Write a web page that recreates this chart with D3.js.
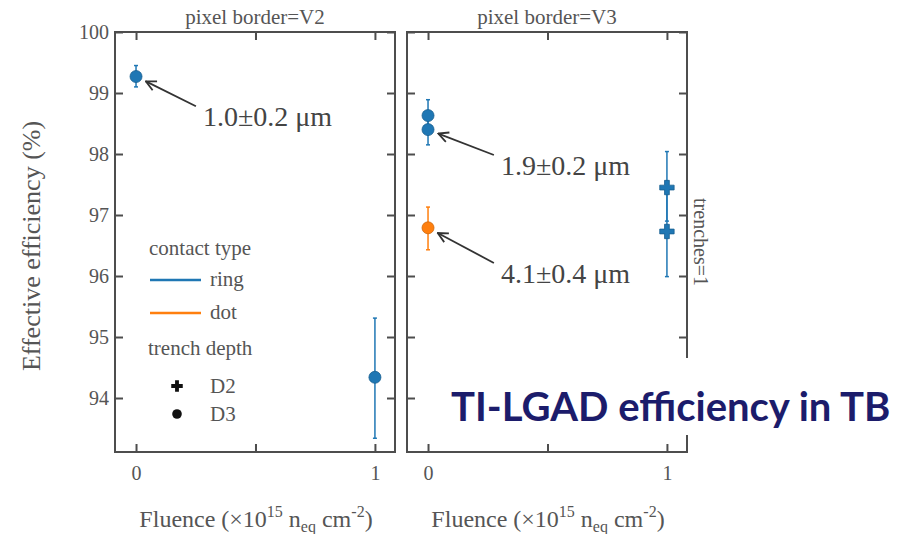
<!DOCTYPE html>
<html>
<head>
<meta charset="utf-8">
<script src="https://cdn.jsdelivr.net/npm/d3@7"></script>
<style>
  html, body { margin: 0; padding: 0; background: #fff; }
  svg { display: block; }
</style>
</head>
<body>
<svg id="chart" width="910" height="534"></svg>
<script>
// Facets and axes
const panels = ['V2', 'V3'];
const yTicks = [94, 95, 96, 97, 98, 99, 100];
const xTicks = [0, 0.5, 1];
const xTickLabels = ['0', '', '1'];

const pointPanel = ['V2', 'V2', 'V3', 'V3', 'V3', 'V3', 'V3'];
const pointFluence = [0, 1, 0, 0, 0, 1, 1];
const pointEff = [99.27, 94.34, 98.63, 98.40, 96.79, 97.45, 96.73];
const pointErrLo = [99.10, 93.34, 98.37, 98.15, 96.43, 96.90, 95.99];
const pointErrHi = [99.45, 95.31, 98.89, 98.65, 97.13, 98.04, 97.40];
const pointContact = ['ring', 'ring', 'ring', 'ring', 'dot', 'ring', 'ring'];
const pointDepth = ['D3', 'D3', 'D3', 'D3', 'D3', 'D2', 'D2'];

// Annotations: label, target point index, text position (data units)
const annPanel = ['V2', 'V3', 'V3'];
const annText = ['1.0±0.2 μm', '1.9±0.2 μm', '4.1±0.4 μm'];
const annTarget = [0, 3, 4];
const annTextX = [0.28, 0.305, 0.305];
const annTextY = [98.62, 97.82, 96.05];

const contactTypes = ['ring', 'dot'];
const depthTypes = ['D2', 'D3'];

const COLORS = { ring: '#1f77b4', dot: '#ff7f0e' };
const AXIS = '#4d4d4d';
const TEXT = '#555';
const SERIF = '"Liberation Serif", "Times New Roman", serif';

const svg = d3.select('#chart');

const plotTop = 32, plotBottom = 452, pw = 280;
const panelX = { V2: 115, V3: 407 };

const y = d3.scaleLinear().domain([93.115, 100]).range([plotBottom, plotTop]);
const xScales = {};
panels.forEach(p => {
  xScales[p] = d3.scaleLinear().domain([-0.088, 1.084]).range([panelX[p], panelX[p] + pw]);
});

const markerPath = depth => depth === 'D2'
  ? d3.symbol().type(d3.symbolCross).size(115)()
  : d3.symbol().type(d3.symbolCircle).size(Math.PI * 36)();

svg.append('defs').append('marker')
  .attr('id', 'head')
  .attr('viewBox', '0 0 12 12')
  .attr('refX', 11).attr('refY', 6)
  .attr('markerWidth', 12).attr('markerHeight', 12)
  .attr('markerUnits', 'userSpaceOnUse')
  .attr('orient', 'auto')
  .append('path')
  .attr('d', 'M1,1 L11,6 L1,11')
  .attr('fill', 'none')
  .attr('stroke', '#333')
  .attr('stroke-width', 1.8);

panels.forEach((p, pi) => {
  const x = xScales[p];
  const g = svg.append('g');

  // frame
  g.append('rect')
    .attr('x', panelX[p]).attr('y', plotTop)
    .attr('width', pw).attr('height', plotBottom - plotTop)
    .attr('fill', 'none').attr('stroke', AXIS).attr('stroke-width', 2);

  // axes with inward ticks
  const left = g.append('g').attr('transform', `translate(${panelX[p]},0)`)
    .call(d3.axisLeft(y).tickValues(yTicks).tickSizeInner(-8).tickSizeOuter(0).tickPadding(6)
      .tickFormat(pi === 0 ? d3.format('d') : () => ''));
  const right = g.append('g').attr('transform', `translate(${panelX[p] + pw},0)`)
    .call(d3.axisRight(y).tickValues(yTicks).tickSizeInner(-8).tickSizeOuter(0).tickFormat(() => ''));
  const bot = g.append('g').attr('transform', `translate(0,${plotBottom})`)
    .call(d3.axisBottom(x).tickValues(xTicks).tickSizeInner(-8).tickSizeOuter(0).tickPadding(14)
      .tickFormat((d, i) => xTickLabels[i]));
  const topAx = g.append('g').attr('transform', `translate(0,${plotTop})`)
    .call(d3.axisTop(x).tickValues(xTicks).tickSizeInner(-8).tickSizeOuter(0).tickFormat(() => ''));

  [left, right, bot, topAx].forEach(a => {
    a.select('.domain').remove();
    a.selectAll('line').attr('stroke', AXIS).attr('stroke-width', 2);
    a.selectAll('text').attr('fill', TEXT).attr('font-family', SERIF).attr('font-size', 20);
  });

  // panel title
  g.append('text')
    .attr('x', panelX[p] + pw / 2).attr('y', 24)
    .attr('text-anchor', 'middle')
    .attr('fill', TEXT).attr('font-family', SERIF).attr('font-size', 21)
    .text(`pixel border=${p}`);

  // x axis title
  const xt = g.append('text')
    .attr('x', panelX[p] + pw / 2 + 1).attr('y', 527)
    .attr('text-anchor', 'middle')
    .attr('fill', TEXT).attr('font-family', SERIF).attr('font-size', 24);
  xt.append('tspan').text('Fluence (×10');
  xt.append('tspan').attr('font-size', 16).attr('dy', -10).text('15');
  xt.append('tspan').attr('dy', 10).text(' n');
  xt.append('tspan').attr('font-size', 16).attr('dy', 5).text('eq');
  xt.append('tspan').attr('dy', -5).text(' cm');
  xt.append('tspan').attr('font-size', 16).attr('dy', -10).text('-2');
  xt.append('tspan').attr('dy', 10).text(')');

  // points
  const idx = d3.range(pointEff.length).filter(i => pointPanel[i] === p);

  const eb = g.selectAll('g.err').data(idx).join('g').attr('class', 'err')
    .attr('stroke', i => COLORS[pointContact[i]]).attr('stroke-width', 1.5);
  eb.append('line')
    .attr('x1', i => x(pointFluence[i])).attr('x2', i => x(pointFluence[i]))
    .attr('y1', i => y(pointErrLo[i])).attr('y2', i => y(pointErrHi[i]));
  eb.append('line')
    .attr('x1', i => x(pointFluence[i]) - 2).attr('x2', i => x(pointFluence[i]) + 2)
    .attr('y1', i => y(pointErrLo[i])).attr('y2', i => y(pointErrLo[i]));
  eb.append('line')
    .attr('x1', i => x(pointFluence[i]) - 2).attr('x2', i => x(pointFluence[i]) + 2)
    .attr('y1', i => y(pointErrHi[i])).attr('y2', i => y(pointErrHi[i]));

  g.selectAll('path.pt').data(idx).join('path').attr('class', 'pt')
    .attr('transform', i => `translate(${x(pointFluence[i])},${y(pointEff[i])})`)
    .attr('d', i => markerPath(pointDepth[i]))
    .attr('fill', i => COLORS[pointContact[i]])
    .attr('stroke', i => d3.color(COLORS[pointContact[i]]).darker(0.6))
    .attr('stroke-width', 0.8);

  // annotations
  d3.range(annText.length).filter(a => annPanel[a] === p).forEach(a => {
    const t = annTarget[a];
    const px = x(pointFluence[t]), py = y(pointEff[t]);
    const tx = x(annTextX[a]), ty = y(annTextY[a]);
    const sx = tx - 7, sy = ty - 10;
    const dx = sx - px, dy = sy - py, len = Math.hypot(dx, dy);
    g.append('line')
      .attr('x1', sx).attr('y1', sy)
      .attr('x2', px + dx / len * 11).attr('y2', py + dy / len * 11)
      .attr('stroke', '#333').attr('stroke-width', 1.8)
      .attr('marker-end', 'url(#head)');
    g.append('text')
      .attr('x', tx).attr('y', ty).attr('dy', '0.35em')
      .attr('fill', '#444').attr('font-family', SERIF).attr('font-size', 28)
      .text(annText[a]);
  });
});

// y axis title
svg.append('text')
  .attr('transform', 'translate(40,246) rotate(-90)')
  .attr('text-anchor', 'middle')
  .attr('fill', TEXT).attr('font-family', SERIF).attr('font-size', 26)
  .text('Effective efficiency (%)');

// facet row label
svg.append('text')
  .attr('transform', `translate(694,${(plotTop + plotBottom) / 2}) rotate(90)`)
  .attr('text-anchor', 'middle')
  .attr('fill', TEXT).attr('font-family', SERIF).attr('font-size', 20)
  .text('trenches=1');

// legend
const lg = svg.append('g').attr('font-family', SERIF).attr('fill', TEXT).attr('font-size', 21);
lg.append('text').attr('x', 149).attr('y', 255).text('contact type');
contactTypes.forEach((c, i) => {
  const yy = 280 + i * 33;
  lg.append('line').attr('x1', 150).attr('x2', 201).attr('y1', yy).attr('y2', yy)
    .attr('stroke', COLORS[c]).attr('stroke-width', 2.5);
  lg.append('text').attr('x', 210).attr('y', yy).attr('dy', '0.3em').text(c);
});
lg.append('text').attr('x', 148).attr('y', 355).text('trench depth');
depthTypes.forEach((d, i) => {
  const yy = 386 + i * 28;
  lg.append('path').attr('transform', `translate(177,${yy}) scale(0.8)`)
    .attr('d', markerPath(d)).attr('fill', '#111');
  lg.append('text').attr('x', 210).attr('y', yy).attr('dy', '0.35em').text(d);
});

// slide overlay title
svg.append('rect').attr('x', 445).attr('y', 358).attr('width', 465).attr('height', 77).attr('fill', '#fff');
svg.append('text')
  .attr('x', 451).attr('y', 421)
  .attr('fill', '#1c1c6b')
  .attr('font-family', 'Lato, "Open Sans", sans-serif')
  .attr('font-weight', 'bold').attr('font-size', 40)
  .text('TI-LGAD efficiency in TB');
</script>
</body>
</html>
